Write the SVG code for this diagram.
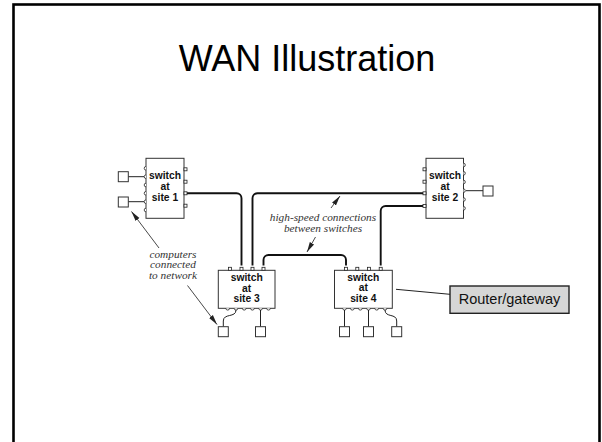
<svg xmlns="http://www.w3.org/2000/svg" xmlns:xlink="http://www.w3.org/1999/xlink" width="602" height="442" viewBox="0 0 602 442">
  <style>
    .frame { fill: none; stroke: #000; stroke-width: 2.6; }
    .title { font-family: "Liberation Sans", Arial, sans-serif; font-size: 36px; fill: #000; text-anchor: middle; }
    .box { fill: #fff; stroke: #333; stroke-width: 1; }
    .lbl { font-family: "Liberation Sans", Arial, sans-serif; font-weight: bold; font-size: 10.3px; fill: #111; text-anchor: middle; }
    .port { fill: #fff; stroke: #222; stroke-width: 0.8; }
    .pc { fill: #fff; stroke: #333; stroke-width: 1; }
    .trunk { fill: none; stroke: #111; stroke-width: 1.9; }
    .link { fill: none; stroke: #222; stroke-width: 1; }
    .note { font-family: "Liberation Serif", "Times New Roman", serif; font-style: italic; font-size: 11.3px; fill: #333; text-anchor: middle; }
    .pointer { fill: none; stroke: #333; stroke-width: 0.9; }
    .router { fill: #d6d6d6; stroke: #222; stroke-width: 1.4; }
    .rtext { font-family: "Liberation Sans", Arial, sans-serif; font-size: 14.5px; fill: #111; text-anchor: middle; }
  </style>
  <defs>
    <!-- round ports bulging out of a switch edge -->
    <path id="pL" class="port" d="M0,-1.8 A1.8,1.8 0 0 0 0,1.8"/>
    <path id="pR" class="port" d="M0,-1.8 A1.8,1.8 0 0 1 0,1.8"/>
    <path id="pD" class="port" d="M-1.8,0 A1.8,1.8 0 0 0 1.8,0"/>
    <!-- square trunk ports -->
    <rect id="sR" class="port" x="0" y="-1.5" width="3" height="3"/>
    <rect id="sL" class="port" x="-3" y="-1.5" width="3" height="3"/>
    <rect id="sU" class="port" x="-1.5" y="-3" width="3" height="3"/>
    <marker id="arrow" viewBox="0 0 10 6" refX="10" refY="3" markerWidth="10" markerHeight="6" markerUnits="userSpaceOnUse" orient="auto">
      <path d="M0,0.6 L10,3 L0,5.4 Z" fill="#222"/>
    </marker>
  </defs>

  <rect class="frame" x="13.5" y="4.5" width="586" height="460"/>
  <text class="title" x="307" y="71">WAN Illustration</text>

  <!-- connectors -->
  <g id="connectors">
    <!-- trunks between switches -->
    <path class="trunk" d="M187,193.3 H236.5 A5,5 0 0 1 241.5,198.3 V265.5"/>
    <path class="trunk" d="M252.5,265.5 V198.3 A5,5 0 0 1 257.5,193.3 H423"/>
    <path class="trunk" d="M263.5,265.5 V260 A5,5 0 0 1 268.5,255 H341 A5,5 0 0 1 346,260 V265.5"/>
    <path class="trunk" d="M380.7,265.5 V211 A5,5 0 0 1 385.7,206 H423"/>
    <!-- computer links -->
    <path class="link" d="M128,176.7 H144"/>
    <path class="link" d="M128,201.7 H144"/>
    <path class="link" d="M466,190.7 H483"/>
    <path class="link" d="M236,310 C236,318 223.3,313 223.3,321 V326.7"/>
    <path class="link" d="M260.5,310 V326.7"/>
    <path class="link" d="M344.5,310 V326.7"/>
    <path class="link" d="M368.5,310 V326.7"/>
    <path class="link" d="M385,310 C385,318 396.7,313 396.7,321 V326.7"/>
    <!-- router pointer -->
    <path class="link" d="M396,289.3 L450,294.3"/>
    <!-- annotation pointers -->
    <path class="pointer" d="M159,248 L131.5,211.5" marker-end="url(#arrow)"/>
    <path class="pointer" d="M187.5,285.5 L217,324.5" marker-end="url(#arrow)"/>
    <path class="pointer" d="M331,208 L340,196" marker-end="url(#arrow)"/>
    <path class="pointer" d="M315.5,237 L307,252" marker-end="url(#arrow)"/>
  </g>

  <g id="switch-site1">
    <rect class="box" x="146" y="158.3" width="38" height="60"/>
    <use href="#pL" x="146" y="168.3"/>
    <use href="#pL" x="146" y="176.7"/>
    <use href="#pL" x="146" y="185"/>
    <use href="#pL" x="146" y="193.3"/>
    <use href="#pL" x="146" y="201.7"/>
    <use href="#pL" x="146" y="210"/>
    <use href="#sR" x="184" y="169.3"/>
    <use href="#sR" x="184" y="181.7"/>
    <use href="#sR" x="184" y="193.3"/>
    <use href="#sR" x="184" y="205.7"/>
    <text class="lbl" x="165" y="179.3">switch<tspan x="165" dy="10.7">at</tspan><tspan x="165" dy="10.7">site 1</tspan></text>
  </g>

  <g id="switch-site2">
    <rect class="box" x="426" y="158.3" width="37.5" height="60"/>
    <use href="#sL" x="426" y="169.3"/>
    <use href="#sL" x="426" y="181.7"/>
    <use href="#sL" x="426" y="193.3"/>
    <use href="#sL" x="426" y="206"/>
    <use href="#pR" x="463.5" y="165"/>
    <use href="#pR" x="463.5" y="173.3"/>
    <use href="#pR" x="463.5" y="182"/>
    <use href="#pR" x="463.5" y="190.7"/>
    <use href="#pR" x="463.5" y="199.5"/>
    <use href="#pR" x="463.5" y="208.3"/>
    <text class="lbl" x="445" y="179.3">switch<tspan x="445" dy="10.7">at</tspan><tspan x="445" dy="10.7">site 2</tspan></text>
  </g>

  <g id="switch-site3">
    <rect class="box" x="218.3" y="270.3" width="56.7" height="38"/>
    <use href="#sU" x="230" y="270.3"/>
    <use href="#sU" x="241.5" y="270.3"/>
    <use href="#sU" x="252.5" y="270.3"/>
    <use href="#sU" x="263.5" y="270.3"/>
    <use href="#pD" x="227.7" y="308.3"/>
    <use href="#pD" x="236" y="308.3"/>
    <use href="#pD" x="244.2" y="308.3"/>
    <use href="#pD" x="252.4" y="308.3"/>
    <use href="#pD" x="260.6" y="308.3"/>
    <use href="#pD" x="268.5" y="308.3"/>
    <text class="lbl" x="246.7" y="281">switch<tspan x="246.7" dy="10.5">at</tspan><tspan x="246.7" dy="10.5">site 3</tspan></text>
  </g>

  <g id="switch-site4">
    <rect class="box" x="334.5" y="270.3" width="57.8" height="38"/>
    <use href="#sU" x="346" y="270.3"/>
    <use href="#sU" x="357.3" y="270.3"/>
    <use href="#sU" x="369" y="270.3"/>
    <use href="#sU" x="380.7" y="270.3"/>
    <use href="#pD" x="344.5" y="308.3"/>
    <use href="#pD" x="352.3" y="308.3"/>
    <use href="#pD" x="360.3" y="308.3"/>
    <use href="#pD" x="368.5" y="308.3"/>
    <use href="#pD" x="376.7" y="308.3"/>
    <use href="#pD" x="385" y="308.3"/>
    <text class="lbl" x="363.3" y="281">switch<tspan x="363.3" dy="10.4">at</tspan><tspan x="363.3" dy="10.4">site 4</tspan></text>
  </g>

  <g id="computers">
    <rect class="pc" x="118.3" y="171.7" width="10" height="10"/>
    <rect class="pc" x="118.3" y="197" width="10" height="10"/>
    <rect class="pc" x="483" y="186" width="10" height="10"/>
    <rect class="pc" x="218.3" y="326.7" width="10" height="10"/>
    <rect class="pc" x="255.5" y="326.7" width="10" height="10"/>
    <rect class="pc" x="339.5" y="326.7" width="10" height="10"/>
    <rect class="pc" x="363.5" y="326.7" width="10" height="10"/>
    <rect class="pc" x="391.7" y="326.7" width="10" height="10"/>
  </g>

  <g id="label-computers">
    <text class="note" x="173" y="257.7">computers<tspan x="173" dy="10.6">connected</tspan><tspan x="173" dy="10.7">to network</tspan></text>
  </g>

  <g id="label-trunks">
    <text class="note" x="323" y="220.6">high-speed connections<tspan x="323" dy="11.1">between switches</tspan></text>
  </g>

  <g id="router-gateway">
    <rect class="router" x="450" y="286" width="119" height="27.3"/>
    <text class="rtext" x="509.5" y="304.3">Router/gateway</text>
  </g>
</svg>
